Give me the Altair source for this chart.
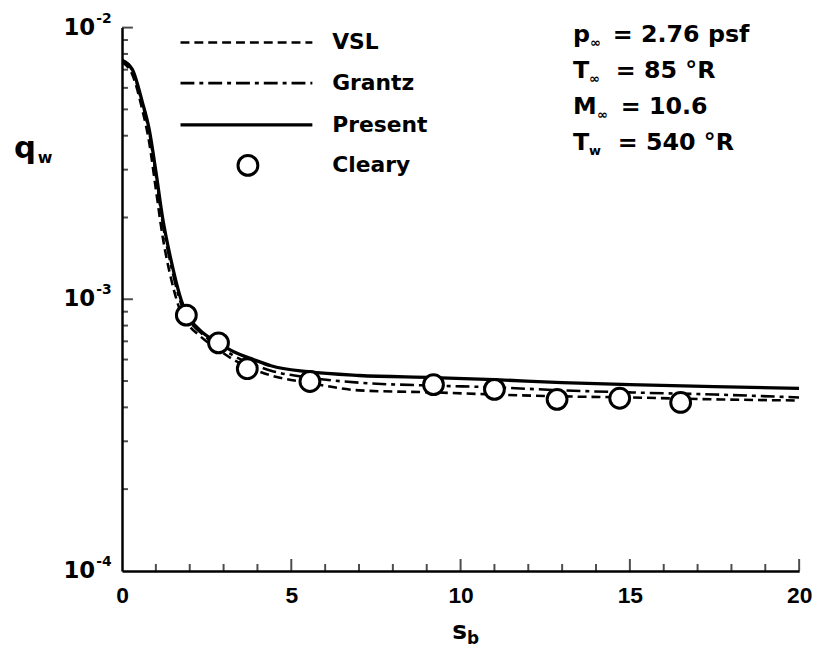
import altair as alt
import pandas as pd

# ---- data ----
s_present = [0, 0.3, 0.6, 0.8, 1.0, 1.2, 1.45, 1.75, 1.9, 2.3, 2.85, 3.3, 3.9, 4.4, 5.5, 7.0, 9.2, 11, 13, 15, 17.5, 20]
q_present = [7.58e-3, 7.03e-3, 5.32e-3, 4.24e-3, 2.96e-3, 1.99e-3, 1.39e-3, 9.92e-4, 8.89e-4, 7.70e-4, 6.91e-4,
             6.41e-4, 5.99e-4, 5.69e-4, 5.41e-4, 5.24e-4, 5.15e-4, 5.06e-4, 4.93e-4, 4.85e-4, 4.77e-4, 4.70e-4]

s_grantz = [0, 0.3, 0.6, 0.8, 1.0, 1.2, 1.45, 1.75, 1.9, 2.3, 2.85, 3.3, 3.9, 4.4, 5.5, 7.0, 9.2, 11, 13, 15, 17.5, 20]
q_grantz = [7.58e-3, 6.97e-3, 5.24e-3, 4.14e-3, 2.86e-3, 1.91e-3, 1.33e-3, 9.59e-4, 8.67e-4, 7.58e-4, 6.74e-4,
            6.19e-4, 5.74e-4, 5.46e-4, 5.15e-4, 4.93e-4, 4.81e-4, 4.74e-4, 4.62e-4, 4.54e-4, 4.46e-4, 4.35e-4]

s_vsl = [0, 0.3, 0.6, 0.8, 1.0, 1.2, 1.45, 1.75, 1.9, 2.3, 2.85, 3.3, 3.9, 4.4, 5.5, 7.0, 9.2, 11, 13, 15, 17.5, 20]
q_vsl = [7.45e-3, 6.74e-3, 4.98e-3, 3.80e-3, 2.54e-3, 1.70e-3, 1.19e-3, 8.89e-4, 8.24e-4, 7.33e-4, 6.51e-4,
         5.99e-4, 5.51e-4, 5.24e-4, 4.93e-4, 4.62e-4, 4.54e-4, 4.46e-4, 4.39e-4, 4.35e-4, 4.28e-4, 4.24e-4]

s_cleary = [1.9, 2.85, 3.7, 5.55, 9.2, 11.0, 12.85, 14.7, 16.5]
q_cleary = [8.74e-4, 6.91e-4, 5.55e-4, 4.98e-4, 4.85e-4, 4.66e-4, 4.28e-4, 4.32e-4, 4.17e-4]

x_tick_labels = [0, 5, 10, 15, 20]
x_minor_ticks = [1, 2, 3, 4, 6, 7, 8, 9, 11, 12, 13, 14, 16, 17, 18, 19]
x_major_ticks = [5, 10, 15, 20]
y_major_ticks = [1e-3, 1e-2]
y_minor_ticks = [2e-4, 3e-4, 4e-4, 5e-4, 6e-4, 7e-4, 8e-4, 9e-4,
                 2e-3, 3e-3, 4e-3, 5e-3, 6e-3, 7e-3, 8e-3, 9e-3]
y_label_values = [1e-2, 1e-3, 1e-4]
y_label_exps = ["-2", "-3", "-4"]

legend_names = ["VSL", "Grantz", "Present", "Cleary"]

ann_main = ["p", "T", "M", "T"]
ann_sub = ["\u221e", "\u221e", "\u221e", "w"]
ann_rest = ["= 2.76 psf", "= 85 \u00b0R", "= 10.6", "= 540 \u00b0R"]

# ---- layout ----
W, H = 683, 548
FONT = "Liberation Sans"
FONT2 = "DejaVu Sans"

xs = alt.Scale(domain=[0, 20], nice=False, zero=False)
ys = alt.Scale(type="log", domain=[1e-4, 1e-2], nice=False)

x_axis = alt.Axis(values=x_tick_labels, format="d", ticks=False, tickSize=0, labelPadding=14,
                  labelFontSize=23, labelFont=FONT, labelFontWeight="bold", labelColor="black",
                  domainColor="black", domainWidth=2.5, grid=False, title=None, labelFlush=False)
y_axis = alt.Axis(labels=False, ticks=False, tickSize=0, grid=False, domainColor="black",
                  domainWidth=2.5, title=None)


def curve(s, q, width, dash=None):
    df = pd.DataFrame({"s": s, "q": q})
    kw = dict(color="black", strokeWidth=width, interpolate="monotone", clip=True)
    if dash is not None:
        kw["strokeDash"] = dash
    return alt.Chart(df).mark_line(**kw).encode(
        x=alt.X("s:Q", scale=xs, axis=x_axis),
        y=alt.Y("q:Q", scale=ys, axis=y_axis),
    )


DASH_VSL = [9, 5]
DASH_GR = [14, 5, 4, 5]
CIRCLE_SIZE = 400

layers = []
layers.append(curve(s_vsl, q_vsl, 2.6, DASH_VSL))
layers.append(curve(s_grantz, q_grantz, 2.6, DASH_GR))
layers.append(curve(s_present, q_present, 3.3))

cleary_df = pd.DataFrame({"s": s_cleary, "q": q_cleary})
layers.append(alt.Chart(cleary_df).mark_circle(fill="white", stroke="black", strokeWidth=3,
                                                size=CIRCLE_SIZE, opacity=1).encode(
    x=alt.X("s:Q", scale=xs, axis=x_axis),
    y=alt.Y("q:Q", scale=ys, axis=y_axis),
))


# inward ticks
def xticks(vals, length):
    return alt.Chart(pd.DataFrame({"s": vals})).mark_tick(color="black", thickness=2, size=length).encode(
        x=alt.X("s:Q", scale=xs, axis=x_axis), y=alt.value(H - length / 2))


def yticks(vals, length):
    return alt.Chart(pd.DataFrame({"q": vals})).mark_tick(color="black", thickness=2, size=length).encode(
        y=alt.Y("q:Q", scale=ys, axis=y_axis), x=alt.value(length / 2))


layers += [xticks(x_minor_ticks, 7), xticks(x_major_ticks, 12), yticks(y_minor_ticks, 6), yticks(y_major_ticks, 11)]

# y tick labels with superscripts
ylab_df = pd.DataFrame({"q": y_label_values, "base": ["10"] * 3, "exp": y_label_exps})
layers.append(alt.Chart(ylab_df).mark_text(align="right", baseline="middle", font=FONT2, fontWeight="bold",
                                           fontSize=23, color="black").encode(
    y=alt.Y("q:Q", scale=ys, axis=y_axis), x=alt.value(-27), text="base:N"))
layers.append(alt.Chart(ylab_df).mark_text(align="left", baseline="middle", font=FONT2, fontWeight="bold",
                                           fontSize=14, color="black", dy=-9).encode(
    y=alt.Y("q:Q", scale=ys, axis=y_axis), x=alt.value(-26), text="exp:N"))


def label(txt, x, y, size, align="left", baseline="middle", font=FONT2):
    return alt.Chart(pd.DataFrame({"t": [txt]})).mark_text(
        align=align, baseline=baseline, font=font, fontWeight="bold", fontSize=size, color="black"
    ).encode(x=alt.value(x), y=alt.value(y), text="t:N")


# axis titles
layers.append(label("q", -109, 132, 31, baseline="alphabetic"))
layers.append(label("w", -85, 137, 16, baseline="alphabetic"))
layers.append(label("s", 333, 617, 25, baseline="alphabetic"))
layers.append(label("b", 348, 622, 17, baseline="alphabetic"))

# legend
leg_y = [15, 56, 98, 139]
dashes = [DASH_VSL, DASH_GR, None]
widths = [2.6, 2.6, 3.3]
for i in range(3):
    kw = dict(color="black", strokeWidth=widths[i])
    if dashes[i] is not None:
        kw["strokeDash"] = dashes[i]
    layers.append(alt.Chart(pd.DataFrame({"n": [legend_names[i]]})).mark_rule(**kw).encode(
        x=alt.value(59), x2=alt.value(192), y=alt.value(leg_y[i])))
layers.append(alt.Chart(pd.DataFrame({"n": [legend_names[3]]})).mark_circle(
    fill="white", stroke="black", strokeWidth=3, size=CIRCLE_SIZE, opacity=1).encode(
    x=alt.value(127), y=alt.value(leg_y[3])))
for i, name in enumerate(legend_names):
    layers.append(label(name, 212, leg_y[i], 22))

# flow conditions
ann_y = [6, 42, 78, 114]
main_w = [17, 16, 24, 16]
rest_x = [495, 498, 503, 500]
for i in range(4):
    layers.append(label(ann_main[i], 455, ann_y[i] + 9, 24, baseline="alphabetic"))
    layers.append(label(ann_sub[i], 455 + main_w[i], ann_y[i] + 14, 13, baseline="alphabetic"))
    layers.append(label(ann_rest[i], rest_x[i], ann_y[i] + 9, 24, baseline="alphabetic"))

chart = alt.layer(*layers).properties(
    width=W, height=H,
    autosize=alt.AutoSizeParams(type="none"),
    padding={"left": 115, "top": 17, "right": 17, "bottom": 76},
    background="white",
).configure_view(stroke=None)

chart.save("out.html", embed_options={"renderer": "svg", "actions": False})
